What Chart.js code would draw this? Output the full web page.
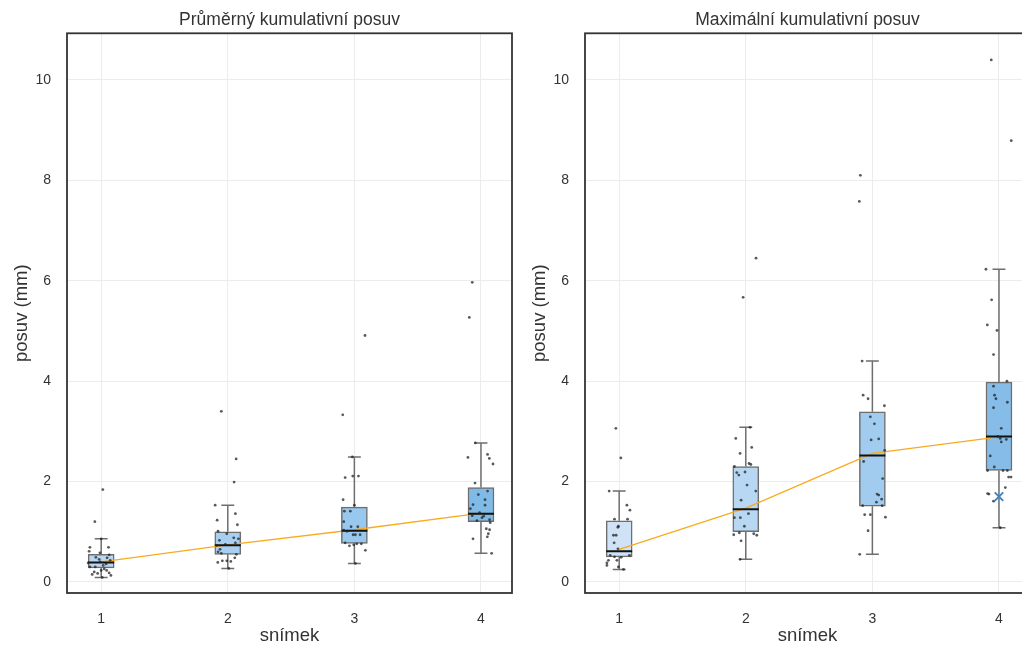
<!DOCTYPE html>
<html lang="cs">
<head>
<meta charset="UTF-8">
<title>Kumulativní posuv</title>
<script src="https://cdn.jsdelivr.net/npm/chart.js"></script>
<style>
  html, body { margin: 0; padding: 0; background: #fff; overflow: hidden; }
  #wrap { position: relative; width: 1022px; height: 649px; overflow: hidden; }
  canvas { position: absolute; top: 0; }
  #chartAvg { left: 0; }
  #chartMax { left: 518px; }
</style>
</head>
<body>
<div id="wrap">
  <canvas id="chartAvg" width="520" height="649"></canvas>
  <canvas id="chartMax" width="520" height="649"></canvas>
</div>
<script>
// snímky na ose x, popisky osy y
const snimky = [1, 2, 3, 4];
const yTicks = [0, 2, 4, 6, 8, 10];

// průměrný kumulativní posuv (mm)
const avgLow    = [0.09, 0.27, 0.37, 0.57];
const avgQ1     = [0.28, 0.55, 0.77, 1.20];
const avgMedian = [0.39, 0.73, 1.02, 1.36];
const avgQ3     = [0.55, 1.00, 1.49, 1.88];
const avgHigh   = [0.86, 1.53, 2.49, 2.77];
const avgTrend  = [0.40, 0.74, 1.04, 1.37];
const avgPoints = [
  [1.84, 1.20, 0.69, 0.69, 0.61, 0.58, 0.49, 0.45, 0.54, 0.43, 0.30, 0.30, 0.33, 0.36, 0.38, 0.20, 0.23, 0.23, 0.18, 0.17, 0.13, 0.15, 0.26, 0.40, 0.48, 0.86, 0.09],
  [3.40, 2.45, 1.99, 1.53, 1.36, 1.23, 1.14, 1.01, 0.96, 0.88, 0.86, 0.83, 0.78, 0.75, 0.73, 0.65, 0.60, 0.57, 0.55, 0.48, 0.42, 0.39, 0.42, 0.41, 0.27],
  [4.91, 3.33, 2.49, 2.08, 2.11, 2.11, 1.64, 1.53, 1.41, 1.41, 1.20, 1.10, 1.10, 1.03, 1.01, 0.94, 0.94, 0.94, 0.78, 0.72, 0.74, 0.76, 0.76, 0.63, 0.37],
  [5.97, 5.27, 2.77, 2.54, 2.48, 2.46, 2.35, 1.97, 1.81, 1.74, 1.64, 1.54, 1.53, 1.46, 1.38, 1.32, 1.31, 1.28, 1.22, 1.24, 1.18, 1.06, 1.04, 0.96, 0.90, 0.86, 0.57]
];
const avgJitter = [
  [0.013, -0.05, -0.089, 0.058, -0.095, -0.01, -0.042, -0.016, 0.063, 0.071, -0.089, -0.047, 0.016, 0.039, -0.103, -0.055, 0, 0.043, 0.063, -0.028, 0.077, -0.071, 0.024, -0.008, 0.047, 0, 0.008],
  [-0.051, 0.066, 0.05, -0.1, 0.06, -0.084, 0.076, -0.077, -0.008, 0.047, 0.084, -0.066, 0.06, -0.019, -0.087, -0.061, -0.077, -0.051, 0.068, 0.055, -0.043, -0.079, -0.008, 0.024, 0.008],
  [0.084, -0.092, -0.016, -0.073, -0.013, 0.032, -0.089, 0, -0.079, -0.032, -0.084, -0.026, 0.027, -0.084, -0.058, -0.01, 0.008, 0.045, -0.073, -0.039, -0.005, 0.019, 0.055, 0.087, 0.008],
  [-0.069, -0.092, -0.045, 0.052, -0.103, 0.066, 0.095, -0.047, 0.052, -0.021, 0.032, -0.063, 0.032, -0.084, -0.011, -0.069, 0.021, 0.008, -0.032, 0.068, 0.073, 0.042, 0.068, 0.058, 0.05, -0.063, 0.084]
];

// maximální kumulativní posuv (mm)
const maxLow    = [0.25, 0.45, 0.55, 1.08];
const maxQ1     = [0.50, 1.00, 1.51, 2.22];
const maxMedian = [0.61, 1.45, 2.52, 2.90];
const maxQ3     = [1.22, 2.30, 3.39, 3.98];
const maxHigh   = [1.81, 3.08, 4.40, 6.23];
const maxTrend  = [0.65, 1.47, 2.56, 2.89];
const maxPoints = [
  [3.06, 2.47, 1.81, 1.53, 1.43, 1.25, 1.25, 1.11, 1.09, 0.93, 0.93, 0.78, 0.66, 0.53, 0.50, 0.49, 0.53, 0.43, 0.43, 0.38, 0.33, 0.30, 0.25],
  [6.45, 5.67, 3.08, 2.86, 2.68, 2.56, 2.36, 2.34, 2.30, 2.18, 2.13, 2.19, 1.93, 1.81, 1.63, 1.36, 1.28, 1.28, 1.11, 0.94, 0.98, 0.96, 0.93, 0.82, 0.45],
  [8.10, 7.58, 4.40, 3.72, 3.65, 3.51, 3.29, 3.15, 2.83, 2.85, 2.62, 2.40, 2.06, 1.75, 1.73, 1.65, 1.59, 1.52, 1.52, 1.34, 1.34, 1.29, 1.02, 0.55],
  [10.40, 8.79, 6.23, 5.62, 5.12, 5.01, 4.53, 4.00, 3.90, 3.72, 3.65, 3.58, 3.47, 3.06, 2.86, 2.84, 2.79, 2.90, 2.51, 2.29, 2.22, 2.22, 2.22, 2.09, 2.09, 1.88, 1.76, 1.75, 1.61, 1.08]
];
const maxJitter = [
  [-0.026, 0.013, -0.079, 0.061, 0.085, -0.037, 0.066, -0.006, -0.01, -0.045, -0.024, -0.04, -0.01, -0.071, -0.037, 0.016, 0.081, -0.085, -0.018, -0.097, -0.097, -0.006, 0.034],
  [0.081, -0.021, 0.034, -0.079, 0.047, -0.045, 0.026, 0.04, -0.09, -0.071, -0.055, -0.006, 0.01, 0.079, -0.037, 0.021, -0.09, -0.043, -0.011, -0.095, -0.051, 0.063, 0.087, -0.037, -0.045],
  [-0.095, -0.103, -0.081, -0.073, -0.034, 0.095, -0.016, 0.016, -0.01, 0.05, 0.097, -0.069, 0.081, 0.037, 0.05, 0.073, 0.032, -0.077, 0.077, -0.061, -0.016, 0.103, -0.034, -0.1],
  [-0.061, 0.097, -0.103, -0.058, -0.092, -0.016, -0.043, 0.063, -0.043, -0.035, -0.024, 0.066, -0.043, 0.018, 0.01, 0.058, 0.018, -0.01, -0.069, -0.037, -0.09, 0.032, 0.066, 0.076, 0.095, 0.05, -0.09, -0.079, -0.043, 0.01]
];
const maxMarker = [{ x: 4, y: 1.70 }];

const avgColors = ['#b9d7f3', '#a8cff1', '#99c8ef', '#80bbe8'];
const maxColors = ['#cfe2f6', '#b8d7f3', '#a1ccef', '#86bde8'];

const FONT = '"Liberation Sans", Arial, sans-serif';
Chart.defaults.font.family = FONT;
Chart.defaults.color = '#333';

const BOX_HALF = 0.1026;   // polovina šířky krabice v jednotkách osy x
const CAP_HALF = 0.051;

function toSegments(list) {
  const out = [];
  list.forEach(([x0, y0, x1, y1]) => {
    out.push({ x: x0, y: y0 }, { x: x1, y: y1 }, { x: x1, y: null });
  });
  return out;
}

function whiskerData(low, q1, q3, high) {
  const segs = [];
  snimky.forEach((s, i) => {
    segs.push([s, low[i], s, q1[i]], [s, q3[i], s, high[i]]);
    segs.push([s - CAP_HALF, low[i], s + CAP_HALF, low[i]]);
    segs.push([s - CAP_HALF, high[i], s + CAP_HALF, high[i]]);
  });
  return toSegments(segs);
}

function medianData(med) {
  return toSegments(snimky.map((s, i) => [s - BOX_HALF, med[i], s + BOX_HALF, med[i]]));
}

function pointData(points, jitter) {
  const out = [];
  snimky.forEach((s, i) => {
    points[i].forEach((v, j) => out.push({ x: s + jitter[i][j], y: v }));
  });
  return out;
}

// rámeček kolem plochy grafu a nadpis vystředěný nad ní
const frame = {
  id: 'frame',
  afterDatasetsDraw(chart, args, opts) {
    const a = chart.chartArea, ctx = chart.ctx;
    ctx.save();
    ctx.strokeStyle = '#333';
    ctx.lineWidth = 1.8;
    ctx.strokeRect(a.left, a.top, a.right - a.left, a.bottom - a.top);
    ctx.fillStyle = '#333';
    ctx.font = '17.5px ' + FONT;
    ctx.textAlign = 'center';
    ctx.textBaseline = 'alphabetic';
    ctx.fillText(opts.title, (a.left + a.right) / 2, 24.5);
    ctx.restore();
  }
};

function makeChart(id, title, d) {
  const datasets = [
    {
      type: 'bar',
      data: snimky.map((s, i) => ({ x: s, y: [d.q1[i], d.q3[i]] })),
      backgroundColor: d.colors,
      borderColor: '#6e6e6e',
      borderWidth: 1.5,
      borderSkipped: false,
      barThickness: 26,
      order: 5
    },
    {
      type: 'line',
      data: whiskerData(d.low, d.q1, d.q3, d.high),
      borderColor: '#6e6e6e',
      borderWidth: 1.5,
      pointRadius: 0,
      spanGaps: false,
      order: 6
    },
    {
      type: 'line',
      data: d.trend.map((v, i) => ({ x: snimky[i], y: v })),
      borderColor: '#f8ab1e',
      borderWidth: 1.3,
      pointRadius: 0,
      order: 4
    },
    {
      type: 'line',
      data: medianData(d.median),
      borderColor: '#111',
      borderWidth: 2,
      pointRadius: 0,
      spanGaps: false,
      order: 3
    },
    {
      type: 'scatter',
      data: pointData(d.points, d.jitter),
      backgroundColor: 'rgba(35,35,35,0.75)',
      borderWidth: 0,
      pointRadius: 1.4,
      order: 2
    }
  ];
  if (d.marker) {
    datasets.push({
      type: 'scatter',
      data: d.marker,
      pointStyle: 'crossRot',
      borderColor: '#3f86c6',
      borderWidth: 2,
      pointRadius: 6,
      order: 1
    });
  }

  return new Chart(document.getElementById(id), {
    type: 'bar',
    data: { datasets },
    options: {
      responsive: false,
      animation: false,
      layout: { padding: { left: 0, right: 8, top: 33.3, bottom: 0 } },
      plugins: {
        legend: { display: false },
        tooltip: { enabled: false },
        title: { display: false },
        frame: { title: title }
      },
      scales: {
        x: {
          type: 'linear',
          min: 0.73,
          max: 4.245,
          offset: false,
          afterBuildTicks: s => { s.ticks = snimky.map(v => ({ value: v })); },
          afterFit: s => { s.height = 56; },
          grid: { color: '#ececec', drawTicks: false, offset: false },
          border: { display: false },
          ticks: { font: { size: 14 }, color: '#333', padding: 18 },
          title: { display: true, text: 'snímek', color: '#333', font: { size: 18.5 }, padding: { top: 0, bottom: 2 } }
        },
        y: {
          min: -0.22,
          max: 10.93,
          afterBuildTicks: s => { s.ticks = yTicks.map(v => ({ value: v })); },
          afterFit: s => { s.width = 67; },
          grid: { color: '#ececec', drawTicks: false },
          border: { display: false },
          ticks: { font: { size: 14 }, color: '#333', padding: 16 },
          title: { display: true, text: 'posuv (mm)', color: '#333', font: { size: 18.5 }, padding: { top: 11, bottom: 0 } }
        }
      }
    },
    plugins: [frame]
  });
}

makeChart('chartAvg', 'Průměrný kumulativní posuv', {
  low: avgLow, q1: avgQ1, median: avgMedian, q3: avgQ3, high: avgHigh,
  trend: avgTrend, points: avgPoints, jitter: avgJitter, colors: avgColors
});

makeChart('chartMax', 'Maximální kumulativní posuv', {
  low: maxLow, q1: maxQ1, median: maxMedian, q3: maxQ3, high: maxHigh,
  trend: maxTrend, points: maxPoints, jitter: maxJitter, colors: maxColors,
  marker: maxMarker
});
</script>
</body>
</html>
